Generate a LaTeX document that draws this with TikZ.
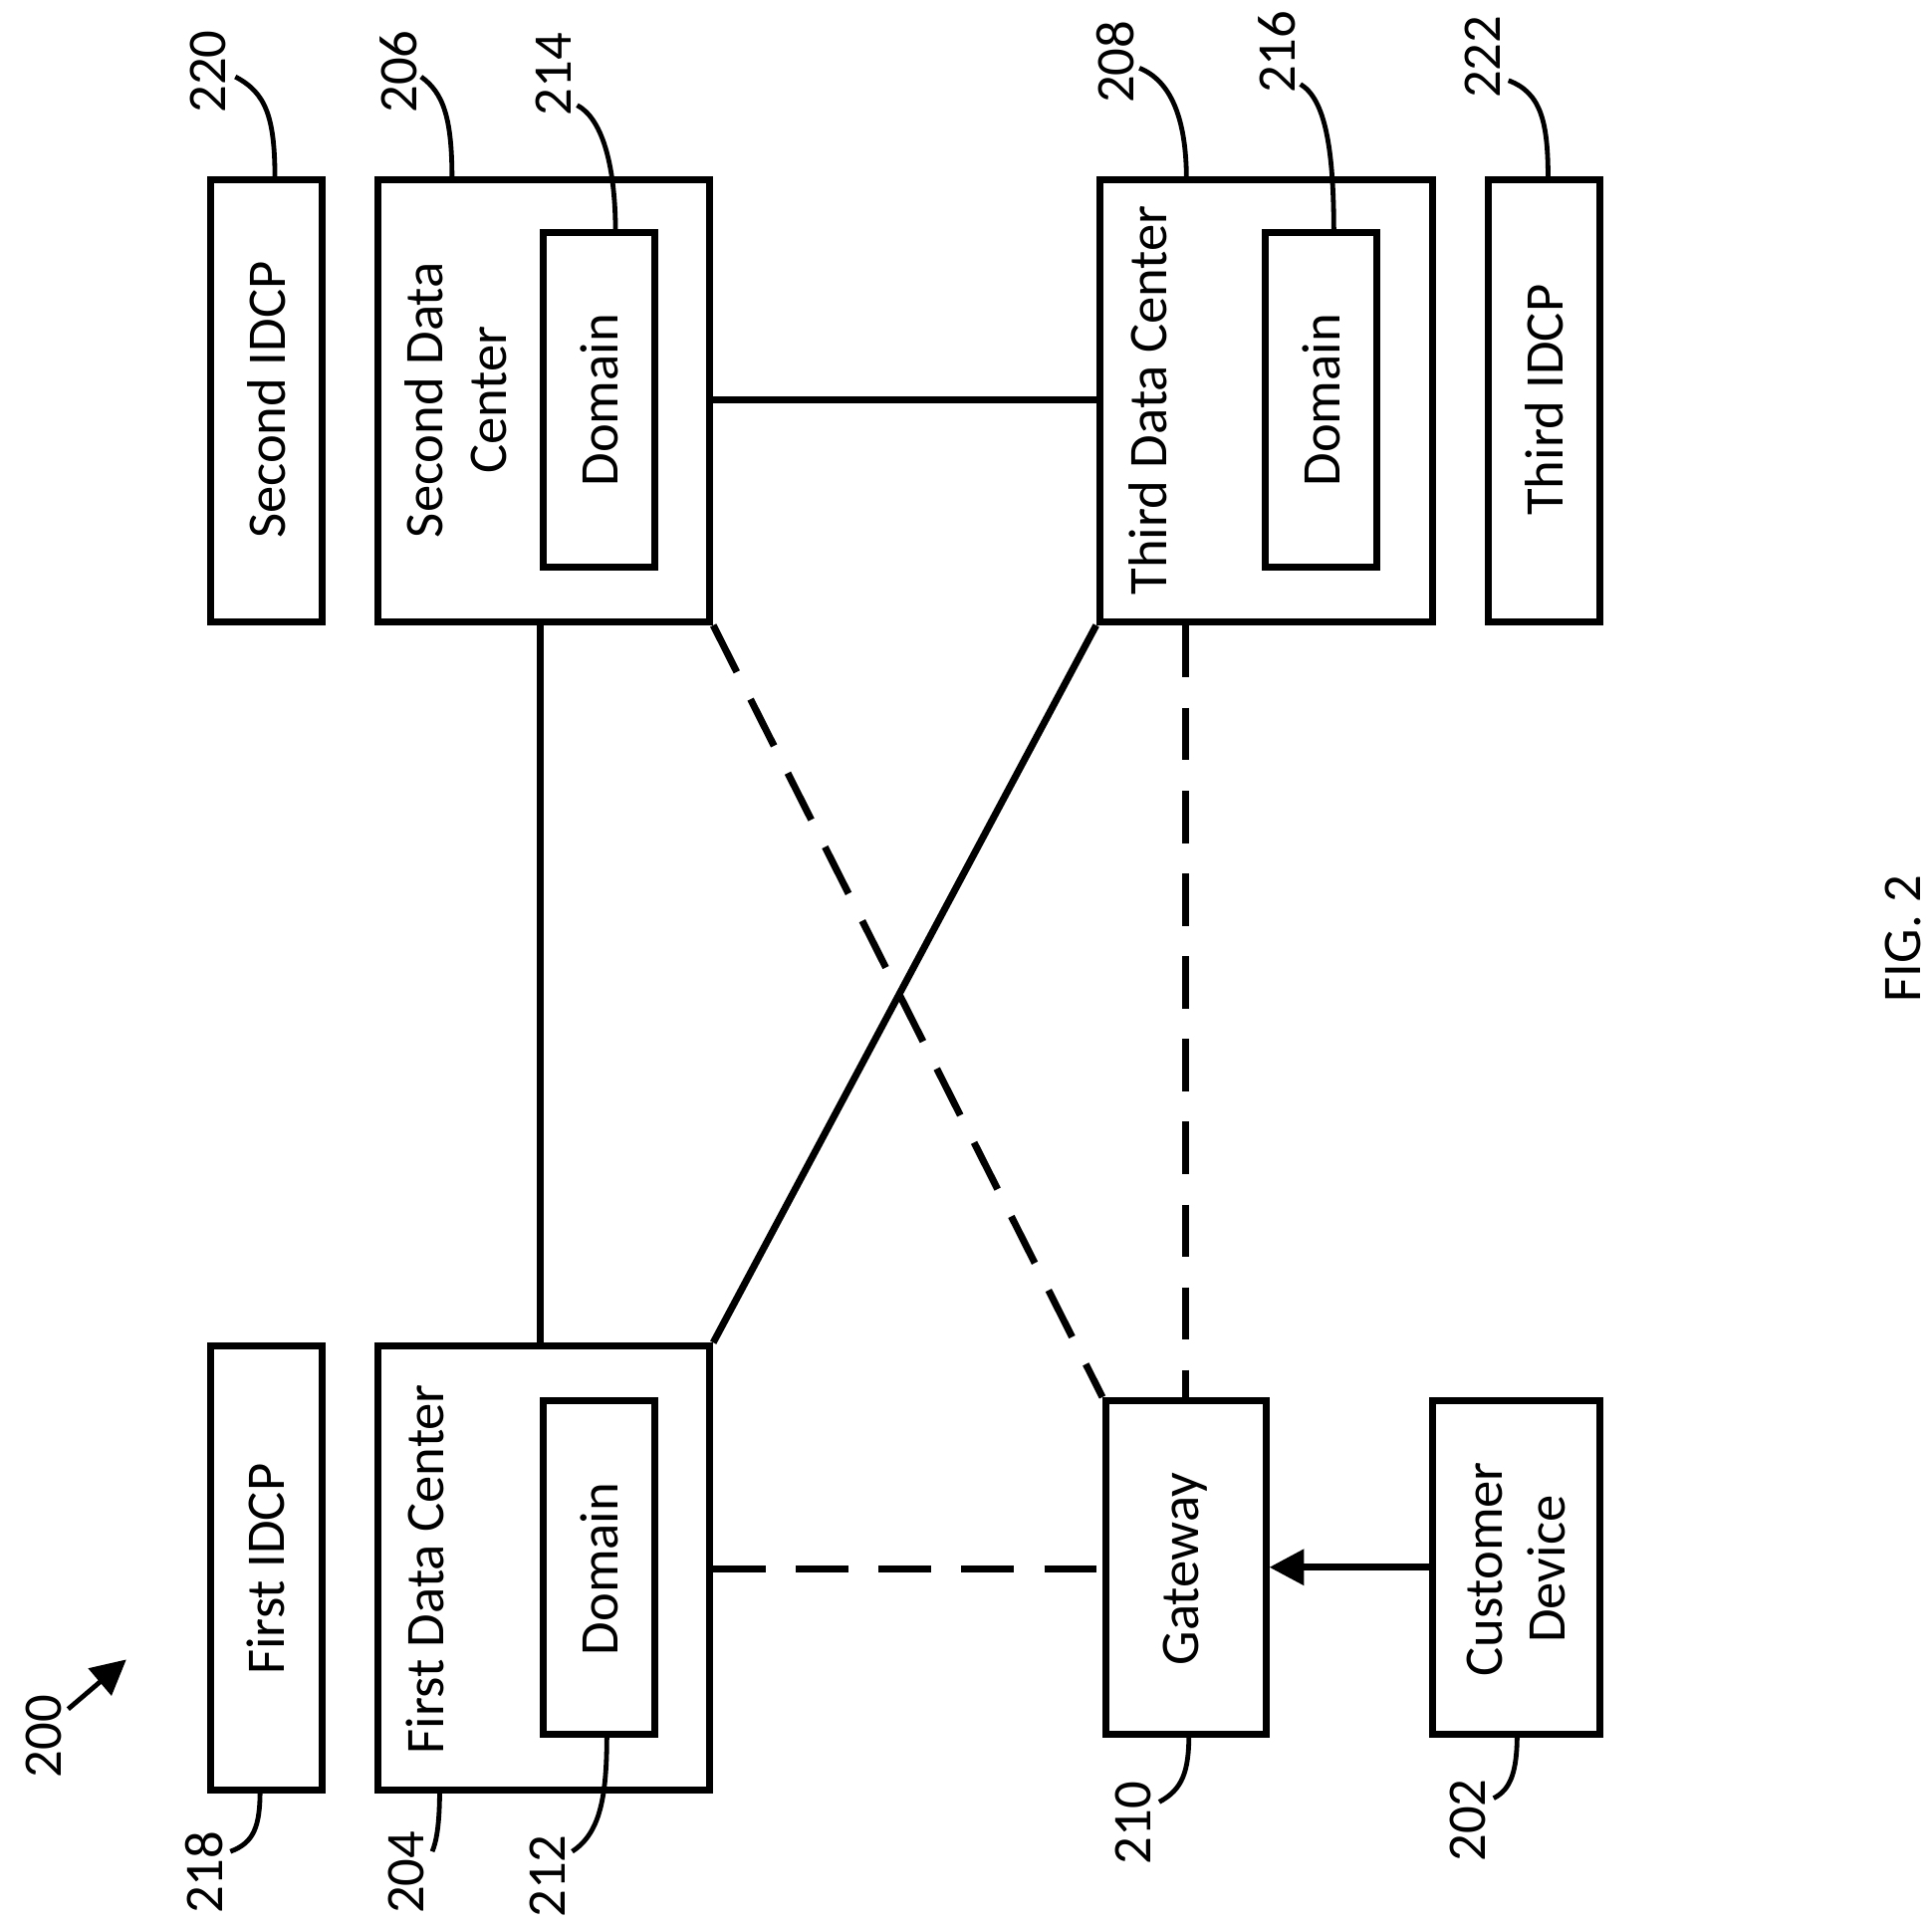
\documentclass[tikz,border=0pt]{standalone}
\usepackage{fontspec}
\setmainfont{Carlito}
\usetikzlibrary{arrows.meta,positioning,calc}
\begin{document}
\begin{tikzpicture}[x=0.01cm,y=-0.01cm,
  box/.style={rectangle, draw, line width=1.6pt, inner sep=0pt},
  txt/.style={rotate=90, align=center, font=\fontsize{12.5}{14.5}\selectfont},
  ref/.style={rotate=90, font=\fontsize{12.5}{14.5}\selectfont},
  lead/.style={line width=1.1pt},
  link/.style={line width=1.6pt},
  dlink/.style={line width=1.6pt, dash pattern=on 12pt off 7pt},
  arr/.style={-{Triangle[length=8pt,width=8pt]}, line width=1.6pt}
]
\useasboundingbox (0,0) rectangle (1560,1555);

% boxes (top row)
\node[box, minimum width=0.9cm, minimum height=3.57cm] (idcp2) at (215,323.5) {};
\node[box, minimum width=2.68cm, minimum height=3.57cm] (sdc) at (439,323.5) {};
\node[box, minimum width=0.9cm, minimum height=2.7cm] (dom214) at (484,323) {};
\node[box, minimum width=2.69cm, minimum height=3.57cm] (tdc) at (1022.5,323.5) {};
\node[box, minimum width=0.9cm, minimum height=2.7cm] (dom216) at (1067,323) {};
\node[box, minimum width=0.9cm, minimum height=3.57cm] (idcp3) at (1247,323.5) {};

% boxes (bottom row)
\node[box, minimum width=0.9cm, minimum height=3.58cm] (idcp1) at (215,1266) {};
\node[box, minimum width=2.68cm, minimum height=3.58cm] (fdc) at (439,1266) {};
\node[box, minimum width=0.9cm, minimum height=2.69cm] (dom212) at (484,1265.5) {};
\node[box, minimum width=1.29cm, minimum height=2.69cm] (gw) at (957.5,1265.5) {};
\node[box, minimum width=1.35cm, minimum height=2.69cm] (cust) at (1224.5,1265.5) {};

% texts
\node[txt] at (215,323) {Second IDCP};
\node[txt] at (368,323) {Second Data\\Center};
\node[txt] at (484,323) {Domain};
\node[txt] at (927,323) {Third Data Center};
\node[txt] at (1067,323) {Domain};
\node[txt] at (1247,323) {Third IDCP};
\node[txt] at (215,1267) {First IDCP};
\node[txt] at (343,1267) {First Data Center};
\node[txt] at (484,1267) {Domain};
\node[txt] at (957,1267) {Gateway};
\node[txt] at (1224,1267) {Customer\\Device};

% connectors
\draw[link] (sdc.east |- 0,323) -- (tdc.west |- 0,323);
\draw[link] (dom214.west |- sdc.south) -- (dom212.west |- fdc.north);
\draw[link] (tdc.south west) -- (fdc.north east);
\draw[dlink] (sdc.south east) -- (gw.north west);
\draw[dlink] (gw.north |- tdc.south) -- (gw.north);
\draw[dlink] (fdc.east |- 0,1267) -- (gw.west |- 0,1267);
\draw[arr] (cust.west) -- (gw.east);

% reference numerals
\node[ref] (n220) at (168,58) {220};
\draw[lead] (222,145) .. controls (222,95) and (215,75) .. (190,62);
\node[ref] (n206) at (322,58) {206};
\draw[lead] (365,145) .. controls (365,95) and (358,75) .. (340,62);
\node[ref] (n214) at (447,60) {214};
\draw[lead] (497,188) .. controls (497,130) and (485,95) .. (466,85);
\node[ref] (n208) at (901,50) {208};
\draw[lead] (958,145) .. controls (958,95) and (945,65) .. (920,55);
\node[ref] (n216) at (1031,42) {216};
\draw[lead] (1077,188) .. controls (1077,120) and (1070,80) .. (1050,68);
\node[ref] (n222) at (1197,46) {222};
\draw[lead] (1250,145) .. controls (1250,100) and (1245,75) .. (1218,65);
\node[ref] (n218) at (165,1512) {218};
\draw[lead] (210,1445) .. controls (210,1475) and (205,1488) .. (186,1495);
\node[ref] (n204) at (328,1512) {204};
\draw[lead] (355,1445) .. controls (355,1475) and (352,1488) .. (349,1495);
\node[ref] (n212) at (442,1515) {212};
\draw[lead] (490,1400) .. controls (490,1450) and (485,1480) .. (462,1495);
\node[ref] (n210) at (915,1472) {210};
\draw[lead] (960,1400) .. controls (960,1430) and (955,1445) .. (936,1455);
\node[ref] (n202) at (1185,1470) {202};
\draw[lead] (1225,1400) .. controls (1225,1430) and (1220,1445) .. (1206,1452);
\node[ref] (n200) at (35,1402) {200};
\draw[arr, line width=1.1pt] (55,1380) -- (102,1340);
\node[ref] (fig) at (1537,758) {FIG. 2};
\end{tikzpicture}
\end{document}
